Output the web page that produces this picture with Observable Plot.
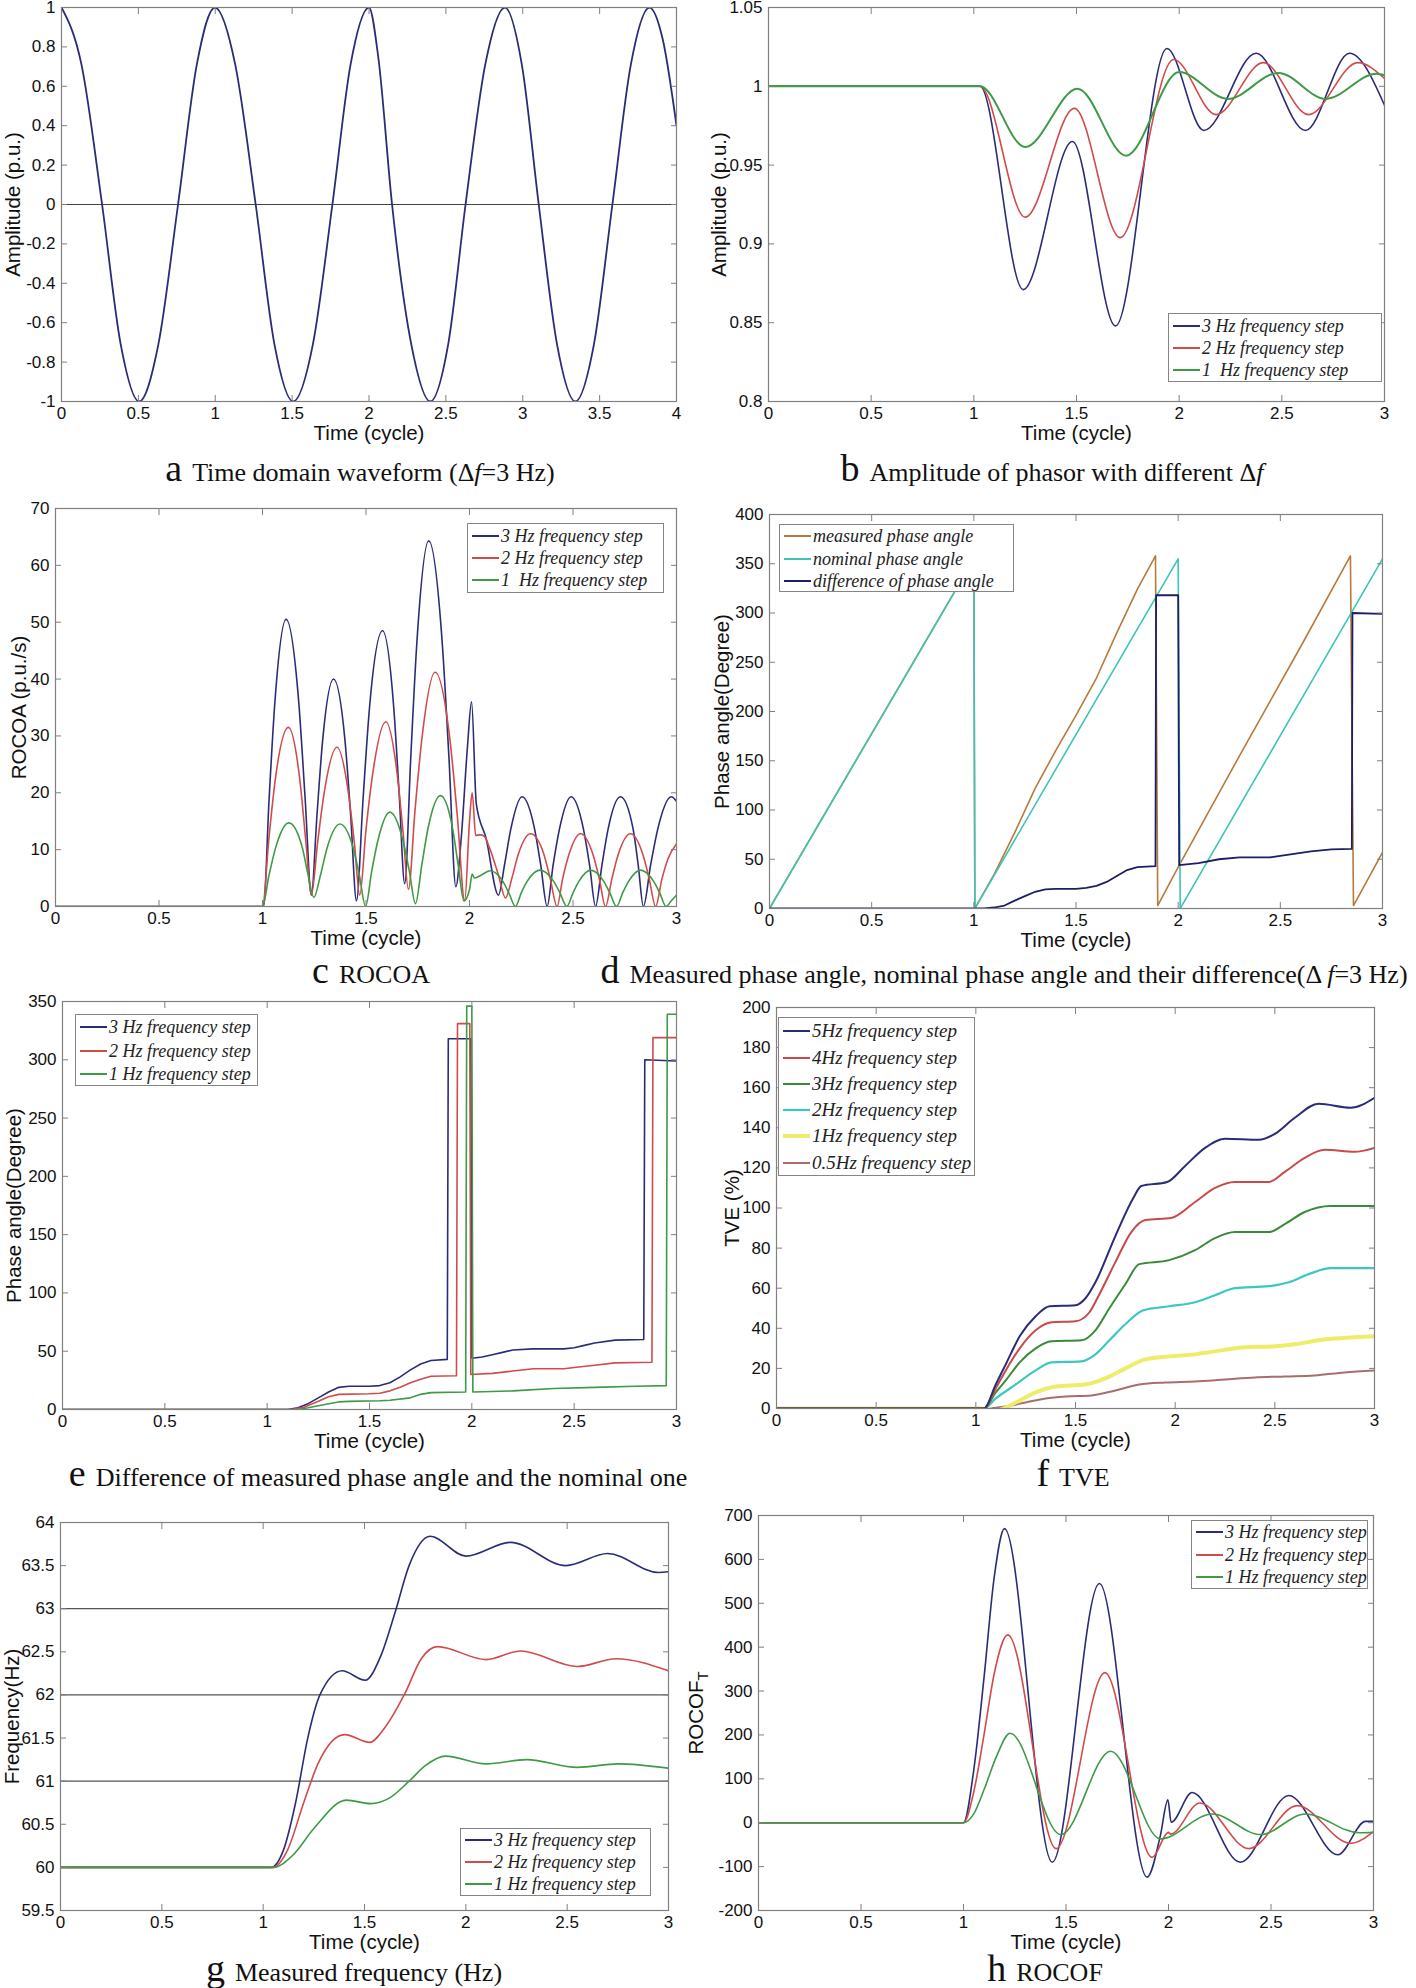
<!DOCTYPE html>
<html><head><meta charset="utf-8">
<script src="https://cdn.jsdelivr.net/npm/d3@7"></script>
<script src="https://cdn.jsdelivr.net/npm/@observablehq/plot@0.6"></script>
<style>
body{margin:0;background:#fff;}
#page{position:relative;width:1416px;height:1988px;overflow:hidden;background:#fff;}
.panel{position:absolute;}
.panel svg{overflow:visible;}
.legend{position:absolute;background:#fff;border:1.5px solid #858585;box-sizing:border-box;font-family:'Liberation Serif','Times New Roman',serif;font-style:italic;color:#222;}
.legend .row{position:absolute;left:0;display:flex;align-items:center;white-space:pre;}
.cap{position:absolute;font-family:'Liberation Serif','Times New Roman',serif;font-size:26px;color:#111;white-space:nowrap;transform:translate(-50%,-50%);line-height:1;}
.cap .l{font-size:38px;margin-right:10px;line-height:0.9;}
</style></head><body><div id="page"></div>
<script>
// ---------- DATA ----------
const timeTicks3 = [0, 0.5, 1, 1.5, 2, 2.5, 3];
const timeTicks4 = [0, 0.5, 1, 1.5, 2, 2.5, 3, 3.5, 4];
const aTicksY = [-1, -0.8, -0.6, -0.4, -0.2, 0, 0.2, 0.4, 0.6, 0.8, 1];
const bTicksY = [0.8, 0.85, 0.9, 0.95, 1, 1.05];
const cTicksY = [0, 10, 20, 30, 40, 50, 60, 70];
const dTicksY = [0, 50, 100, 150, 200, 250, 300, 350, 400];
const eTicksY = [0, 50, 100, 150, 200, 250, 300, 350];
const fTicksY = [0, 20, 40, 60, 80, 100, 120, 140, 160, 180, 200];
const gTicksY = [59.5, 60, 60.5, 61, 61.5, 62, 62.5, 63, 63.5, 64];
const hTicksY = [-200, -100, 0, 100, 200, 300, 400, 500, 600, 700];

const aZeroLine = [0];
const gRefLines = [61, 62, 63];

// a: time-domain waveform
const aWave = [[0,1],[0.13,0.71],[0.264,0],[0.385,-0.71],[0.505,-1],[0.63,-0.71],[0.758,0],[0.88,0.71],[0.998,1],[1.13,0.71],[1.263,0],[1.385,-0.71],[1.507,-1],[1.635,-0.71],[1.762,0],[1.88,0.71],[2.0,1],[2.06,0.75],[2.15,0],[2.275,-0.71],[2.399,-1],[2.515,-0.71],[2.628,0],[2.756,0.71],[2.884,1],[2.994,0.71],[3.104,0],[3.223,-0.71],[3.342,-1],[3.463,-0.71],[3.583,0],[3.703,0.71],[3.824,1],[3.91,0.84],[4.0,0.4]];

// b: amplitude
const b3Hz = [[0,1],[1.03,1],[1.24,0.871],[1.48,0.965],[1.69,0.848],[1.94,1.024],[2.12,0.972],[2.375,1.021],[2.615,0.972],[2.83,1.021],[3.0,0.988]];
const b2Hz = [[0,1],[1.03,1],[1.25,0.917],[1.49,0.986],[1.713,0.904],[1.973,1.017],[2.18,0.982],[2.41,1.015],[2.63,0.982],[2.87,1.015],[3.0,1.005]];
const b1Hz = [[0,1],[1.03,1],[1.25,0.9615],[1.505,0.9985],[1.742,0.956],[2.0,1.009],[2.237,0.992],[2.483,1.0085],[2.714,0.992],[2.96,1.008],[3.0,1.007]];

// c: ROCOA
const c3Hz = [[0,0],[1.0,0],[1.005,0],[1.032,19],[1.06,36],[1.114,50.5],[1.175,36],[1.206,19],[1.236,2],[1.263,16],[1.29,29],[1.343,40],[1.399,29],[1.426,16],[1.454,1],[1.486,19],[1.517,35],[1.58,48.5],[1.634,35],[1.66,20],[1.687,4],[1.716,26],[1.745,46],[1.803,64.3],[1.869,46],[1.901,26],[1.934,3.5],[1.96,12],[1.99,28],[2.01,36],[2.033,18],[2.08,12],[2.14,2],[2.17,7.5],[2.2,13.7],[2.254,19.3],[2.314,13.7],[2.344,7.3],[2.375,0],[2.404,7.3],[2.435,13.7],[2.491,19.3],[2.55,13.7],[2.58,7.3],[2.609,0],[2.64,7.3],[2.67,13.7],[2.729,19.3],[2.79,13.7],[2.815,7.3],[2.84,0],[2.875,7.3],[2.91,13.7],[2.975,19.3],[3.0,18.5]];
const c2Hz = [[0,0],[1.0,0],[1.031,12],[1.062,22.4],[1.125,31.5],[1.18,22.4],[1.208,12],[1.236,2],[1.267,11.5],[1.298,20],[1.36,28],[1.415,20],[1.443,11.5],[1.47,2],[1.5,13.5],[1.533,23.5],[1.596,32.5],[1.65,23.5],[1.678,13.5],[1.705,3],[1.737,17],[1.77,29.5],[1.834,41.2],[1.905,29.5],[1.941,16],[1.977,1],[2.0,15],[2.013,20],[2.03,12.5],[2.05,12.6],[2.07,12.4],[2.1,10],[2.14,5.5],[2.174,1.5],[2.205,5],[2.235,9.1],[2.295,12.8],[2.36,9.1],[2.39,4.9],[2.423,0],[2.45,4.9],[2.48,9.1],[2.536,12.8],[2.597,9.1],[2.627,4.9],[2.657,0],[2.688,4.9],[2.718,9.1],[2.778,12.8],[2.838,9.1],[2.868,4.9],[2.899,0],[2.93,4.9],[2.96,8.5],[3.0,11]];
const c1Hz = [[0,0],[1.0,0],[1.032,5.6],[1.064,10.4],[1.127,14.7],[1.192,10.4],[1.22,5.6],[1.248,1.6],[1.28,5.5],[1.312,10.3],[1.374,14.5],[1.438,10.3],[1.468,5.5],[1.498,0],[1.528,6.3],[1.558,11.7],[1.615,16.6],[1.678,11.7],[1.709,6.3],[1.739,0.5],[1.77,7.4],[1.8,13.8],[1.86,19.5],[1.918,13.8],[1.945,7.4],[1.973,1],[2.0,3],[2.013,5.7],[2.024,5],[2.06,5.6],[2.1,6.3],[2.16,4.5],[2.19,2.4],[2.222,0],[2.25,2.4],[2.28,4.5],[2.34,6.4],[2.405,4.5],[2.437,2.4],[2.47,0],[2.5,2.4],[2.53,4.5],[2.585,6.4],[2.647,4.5],[2.678,2.4],[2.71,0],[2.74,2.4],[2.77,4.5],[2.826,6.4],[2.888,4.5],[2.919,2.4],[2.95,0],[2.975,1],[3.0,2]];

// d: phase angles (3 Hz step)
const dMeasured = [[0,0],[1.0,355],[1.005,0],[1.1,35],[1.2,77],[1.3,122],[1.4,160],[1.5,196],[1.6,234],[1.7,280],[1.8,324],[1.889,358],[1.9,3],[2.0,42],[2.3,155],[2.6,266],[2.843,358],[2.858,3],[3.0,57]];
const dNominal = [[0,0],[1.0,355],[1.005,0],[2.0,355],[2.01,0],[3.0,355]];
const dDiff = [[0,0],[1.05,0],[1.1,1],[1.15,3],[1.2,8],[1.25,12.5],[1.3,17],[1.35,19.5],[1.4,20],[1.5,20],[1.55,21],[1.6,23],[1.65,27],[1.7,33],[1.75,39],[1.8,42],[1.889,43],[1.892,318],[2.0,318],[2.005,44],[2.1,46],[2.2,50],[2.3,52],[2.45,52],[2.55,55],[2.65,58],[2.75,60],[2.85,60.5],[2.853,300],[3.0,299]];

// e: phase angle difference
const e3Hz = [[0,0],[1.1,0],[1.15,1.5],[1.2,5],[1.25,10],[1.3,15],[1.35,19],[1.4,20],[1.5,20],[1.55,20.5],[1.6,23],[1.65,28],[1.7,34],[1.75,39],[1.8,42],[1.88,43],[1.885,318],[1.995,318],[2.0,44],[2.05,45],[2.1,47],[2.15,49],[2.2,51],[2.3,52],[2.45,52],[2.5,53],[2.55,55],[2.6,57],[2.7,59.5],[2.84,60],[2.845,300],[3.0,299]];
const e2Hz = [[0,0],[1.12,0],[1.18,2],[1.25,7],[1.3,11],[1.35,13],[1.5,13.5],[1.55,14],[1.6,16],[1.65,19],[1.7,23],[1.75,26],[1.8,28.5],[1.925,29],[1.93,331],[1.99,331],[1.995,30],[2.1,31],[2.2,33],[2.3,35],[2.45,35],[2.5,36],[2.6,38],[2.7,40],[2.88,40.5],[2.885,319],[3.0,319]];
const e1Hz = [[0,0],[1.15,0],[1.2,1.5],[1.3,5],[1.35,6.5],[1.4,7],[1.55,7.5],[1.6,8],[1.7,10],[1.75,13],[1.8,14.5],[1.97,15],[1.975,346],[2.0,346],[2.005,15],[2.2,16],[2.4,18],[2.6,19],[2.8,20],[2.95,20.5],[2.955,339],[3.0,339]];

// f: TVE
const f5Hz = [[0,0],[1.04,0],[1.1,12],[1.15,22],[1.22,36],[1.3,46],[1.37,51],[1.5,51.5],[1.55,55],[1.6,63],[1.7,86],[1.79,105],[1.83,111],[1.96,113],[2.05,121],[2.15,130],[2.25,134.5],[2.42,134],[2.5,137],[2.6,145],[2.72,152],[2.88,150],[3.0,155]];
const f4Hz = [[0,0],[1.04,0],[1.1,10],[1.15,19],[1.22,30],[1.3,39],[1.38,43],[1.5,43.5],[1.57,48],[1.62,57],[1.7,73],[1.78,88],[1.85,94],[1.98,95],[2.1,103],[2.2,110],[2.3,113],[2.47,113],[2.55,118],[2.65,125],[2.75,129],[2.9,128],[3.0,130]];
const f3Hz = [[0,0],[1.04,0],[1.1,8],[1.15,14],[1.22,23],[1.3,30],[1.38,33.5],[1.53,34],[1.6,39],[1.67,50],[1.75,62],[1.82,72],[1.97,74],[2.1,79],[2.2,85],[2.3,88],[2.47,88],[2.55,92],[2.65,98],[2.78,101],[3.0,101]];
const f2Hz = [[0,0],[1.04,0],[1.1,5],[1.2,12],[1.3,19],[1.38,23],[1.53,23.5],[1.6,27],[1.67,34],[1.75,42],[1.84,49],[1.97,51],[2.1,53],[2.2,56.5],[2.3,60],[2.47,61],[2.57,63],[2.67,67],[2.78,70],[3.0,70]];
const f1Hz = [[0,0],[1.05,0],[1.1,-1],[1.2,3],[1.3,8],[1.4,11],[1.55,12],[1.65,15],[1.75,20],[1.85,24.5],[1.97,26],[2.1,27],[2.2,28.5],[2.35,30.5],[2.5,31],[2.6,32],[2.75,34.5],[2.9,35.5],[3.0,36]];
const f05Hz = [[0,0],[1.05,0],[1.15,1],[1.25,3],[1.35,5],[1.45,6],[1.58,6.5],[1.7,9],[1.82,12],[1.95,13],[2.1,13.5],[2.25,14.5],[2.4,15.5],[2.55,16],[2.7,16.5],[2.85,18],[3.0,19]];

// g: measured frequency
const g3Hz = [[0,60],[1.04,60],[1.1,60.2],[1.16,60.75],[1.22,61.5],[1.28,62.0],[1.39,62.28],[1.503,62.17],[1.58,62.45],[1.65,62.95],[1.72,63.5],[1.824,63.84],[2.0,63.61],[2.22,63.77],[2.494,63.5],[2.7,63.64],[2.95,63.42],[3.0,63.43]];
const g2Hz = [[0,60],[1.05,60],[1.12,60.2],[1.2,60.75],[1.27,61.2],[1.403,61.54],[1.526,61.45],[1.6,61.62],[1.7,62.02],[1.78,62.42],[1.86,62.56],[2.1,62.41],[2.27,62.51],[2.55,62.33],[2.74,62.42],[3.0,62.28]];
const g1Hz = [[0,60],[1.05,60],[1.15,60.15],[1.25,60.45],[1.41,60.78],[1.53,60.74],[1.62,60.8],[1.72,61.0],[1.8,61.18],[1.9,61.29],[2.1,61.2],[2.3,61.25],[2.55,61.16],[2.75,61.2],[3.0,61.15]];

// h: ROCOF
const h3Hz = [[0,0],[1.0,0],[1.05,120],[1.1,330],[1.15,560],[1.2,670],[1.433,-90],[1.663,545],[1.896,-124],[1.96,-30],[1.997,52],[2.013,1],[2.115,69],[2.351,-90],[2.587,62],[2.826,-73],[2.961,3],[3.0,3]];
const h2Hz = [[0,0],[1.0,0],[1.05,70],[1.1,200],[1.15,340],[1.216,428],[1.452,-59],[1.69,342],[1.92,-79],[2.0,-22],[2.01,-26],[2.153,45],[2.392,-59],[2.628,39],[2.888,-47],[3.0,-20]];
const h1Hz = [[0,0],[1.0,0],[1.05,20],[1.1,75],[1.16,150],[1.227,204],[1.475,-27],[1.718,163],[1.961,-37],[2.213,20],[2.449,-27],[2.668,20],[2.93,-23],[3.0,-22]];

// legends / labels
const stepLabels = ["3 Hz frequency step", "2 Hz frequency step", "1 Hz frequency step"];
const stepLabelsB = ["3 Hz frequency step", "2 Hz frequency step", "1  Hz frequency step"];
const phaseLabels = ["measured phase angle", "nominal phase angle", "difference of phase angle"];
const tveLabels = ["5Hz frequency step", "4Hz frequency step", "3Hz frequency step", "2Hz frequency step", "1Hz frequency step", "0.5Hz frequency step"];

// colours
const navy = "#2b2c78", red = "#d14b4b", green = "#3d9a45";
const stepColors = [navy, red, green];
const phaseColors = ["#b87a3c", "#3ec4b4", "#1e1e66"];
const tveColors = [navy, "#c84a4a", "#3a8a3a", "#3cc8c0", "#eded6a", "#a86e6e"];

// ---------- RENDER ----------
const page = document.getElementById("page");
const ML = 90, MR = 20, MT = 15, MB = 60;
const gray = "#808080";
const fmt = d => String(d);

function panel(cfg) {
  const [x0, y0, x1, y1] = cfg.frame;
  const W = x1 - x0 + ML + MR, H = y1 - y0 + MT + MB;
  const lines = cfg.series.map(s => Plot.line(s.pts, {
    x: d => d[0], y: d => d[1], stroke: s.color, strokeWidth: s.width || 1.6,
    curve: s.curve || cfg.curve || "monotone-x", clip: true
  }));
  const svg = Plot.plot({
    width: W, height: H, marginLeft: ML, marginRight: MR, marginTop: MT, marginBottom: MB,
    x: {domain: cfg.xDomain}, y: {domain: cfg.yDomain},
    style: {fontSize: "17px", fontFamily: "'Liberation Sans', Arial, sans-serif", color: "#111", background: "transparent", overflow: "visible"},
    marks: [
      ...(cfg.extra || []),
      ...lines,
      Plot.frame({stroke: gray, strokeWidth: 1.2}),
      Plot.axisX({ticks: cfg.xTicks, tickSize: 0, tickPadding: 5, tickFormat: fmt, fill: "#111", label: "Time (cycle)", labelAnchor: "center", labelArrow: "none", labelOffset: 38}),
      Plot.axisX({ticks: cfg.xTicks, tickSize: -6, fill: "none", stroke: gray}),
      Plot.axisX({ticks: cfg.xTicks, anchor: "top", tickSize: -6, fill: "none", stroke: gray}),
      Plot.axisY({ticks: cfg.yTicks, tickSize: 0, tickPadding: 6, tickFormat: fmt, fill: "#111", label: cfg.ylabel, labelAnchor: "center", labelArrow: "none", labelOffset: cfg.yLabelOffset}),
      Plot.axisY({ticks: cfg.yTicks, tickSize: -6, fill: "none", stroke: gray}),
      Plot.axisY({ticks: cfg.yTicks, anchor: "right", tickSize: -6, fill: "none", stroke: gray})
    ]
  });
  svg.querySelectorAll('g[aria-label="x-axis label"], g[aria-label="y-axis label"]').forEach(g => g.setAttribute("font-size", "20.5"));
  if (cfg.subscript) {
    const t = svg.querySelector('g[aria-label="y-axis label"] text');
    if (t) {
      const ts = document.createElementNS("http://www.w3.org/2000/svg", "tspan");
      ts.setAttribute("dy", "0.35em"); ts.setAttribute("font-size", "15");
      ts.textContent = cfg.subscript;
      t.appendChild(ts);
    }
  }
  const div = document.createElement("div");
  div.className = "panel";
  div.style.left = (x0 - ML) + "px";
  div.style.top = (y0 - MT) + "px";
  div.appendChild(svg);
  page.appendChild(div);
}

function legend(box, rows, labels, colors, fs, widths) {
  const [x0, y0, x1, y1] = box;
  const div = document.createElement("div");
  div.className = "legend";
  Object.assign(div.style, {left: x0 + "px", top: y0 + "px", width: (x1 - x0) + "px", height: (y1 - y0) + "px", fontSize: fs + "px"});
  labels.forEach((lab, i) => {
    const r = document.createElement("div");
    r.className = "row";
    r.style.top = (rows[i] - y0 - fs * 0.6 - 1.5) + "px";
    r.style.height = (fs * 1.2) + "px";
    r.style.lineHeight = (fs * 1.2) + "px";
    const w = widths ? widths[i] : 2;
    r.innerHTML = `<svg width="31" height="8" style="flex:none"><line x1="4" y1="4" x2="31" y2="4" stroke="${colors[i]}" stroke-width="${w}"/></svg><span style="margin-left:2px">${lab}</span>`;
    div.appendChild(r);
  });
  page.appendChild(div);
}

function caption(cx, cy, letter, html) {
  const d = document.createElement("div");
  d.className = "cap";
  d.style.left = cx + "px"; d.style.top = cy + "px";
  d.innerHTML = `<span class="l">${letter}</span>${html}`;
  page.appendChild(d);
}

// a
panel({frame: [61, 7, 676, 401], xDomain: [0, 4], yDomain: [-1, 1], xTicks: timeTicks4, yTicks: aTicksY,
  ylabel: "Amplitude (p.u.)", yLabelOffset: 56,
  extra: [Plot.ruleY(aZeroLine, {stroke: "#444", strokeWidth: 1.2})],
  series: [{pts: aWave, color: navy, width: 1.8}]});
// b
panel({frame: [768, 7, 1384, 401], xDomain: [0, 3], yDomain: [0.8, 1.05], xTicks: timeTicks3, yTicks: bTicksY,
  ylabel: "Amplitude (p.u.)", yLabelOffset: 57,
  series: [{pts: b3Hz, color: navy}, {pts: b2Hz, color: red}, {pts: b1Hz, color: green, width: 2}]});
// c
panel({frame: [55, 508, 676, 906], xDomain: [0, 3], yDomain: [0, 70], xTicks: timeTicks3, yTicks: cTicksY,
  ylabel: "ROCOA (p.u./s)", yLabelOffset: 44,
  series: [{pts: c3Hz, color: navy}, {pts: c2Hz, color: red}, {pts: c1Hz, color: green}]});
// d
panel({frame: [769, 514, 1382, 908], xDomain: [0, 3], yDomain: [0, 400], xTicks: timeTicks3, yTicks: dTicksY,
  ylabel: "Phase angle(Degree)", yLabelOffset: 55, curve: "linear",
  series: [{pts: dMeasured, color: phaseColors[0]}, {pts: dNominal, color: phaseColors[1]}, {pts: dDiff, color: phaseColors[2], width: 1.8}]});
// e
panel({frame: [62, 1001, 676, 1409], xDomain: [0, 3], yDomain: [0, 350], xTicks: timeTicks3, yTicks: eTicksY,
  ylabel: "Phase angle(Degree)", yLabelOffset: 56, curve: "linear",
  series: [{pts: e3Hz, color: navy}, {pts: e2Hz, color: red}, {pts: e1Hz, color: green}]});
// f
panel({frame: [776, 1007, 1374, 1408], xDomain: [0, 3], yDomain: [0, 200], xTicks: timeTicks3, yTicks: fTicksY,
  ylabel: "TVE (%)", yLabelOffset: 52,
  series: [{pts: f05Hz, color: tveColors[5], width: 2}, {pts: f1Hz, color: tveColors[4], width: 4}, {pts: f2Hz, color: tveColors[3], width: 2.2},
           {pts: f3Hz, color: tveColors[2], width: 2}, {pts: f4Hz, color: tveColors[1], width: 2}, {pts: f5Hz, color: tveColors[0], width: 2}]});
// g
panel({frame: [60, 1522, 668, 1910], xDomain: [0, 3], yDomain: [59.5, 64], xTicks: timeTicks3, yTicks: gTicksY,
  ylabel: "Frequency(Hz)", yLabelOffset: 56,
  extra: [Plot.ruleY(gRefLines, {stroke: "#555", strokeWidth: 1.2})],
  series: [{pts: g3Hz, color: navy}, {pts: g2Hz, color: red}, {pts: g1Hz, color: green}]});
// h
panel({frame: [758, 1515, 1373, 1910], xDomain: [0, 3], yDomain: [-200, 700], xTicks: timeTicks3, yTicks: hTicksY,
  ylabel: "ROCOF", subscript: "T", yLabelOffset: 70,
  series: [{pts: h3Hz, color: navy}, {pts: h2Hz, color: red}, {pts: h1Hz, color: green}]});

// legends
legend([1168, 313, 1382, 382], [327, 349, 371], stepLabelsB, stepColors, 18);
legend([467, 523, 664, 593], [537, 559, 581], stepLabelsB, stepColors, 18);
legend([779, 524, 1014, 592], [537, 560, 582], phaseLabels, phaseColors, 18);
legend([75, 1014, 258, 1086], [1028, 1052, 1075], stepLabels, stepColors, 18);
legend([778, 1017, 975, 1176], [1032, 1059, 1085, 1111, 1137, 1164], tveLabels, tveColors, 19, [2, 2, 2, 2.2, 4, 2]);
legend([460, 1828, 651, 1896], [1841, 1863, 1885], stepLabels, stepColors, 18);
legend([1191, 1520, 1368, 1589], [1533, 1556, 1578], stepLabels, stepColors, 18);

// captions
caption(360, 468, "a", "Time domain waveform (Δ<i>f</i>=3 Hz)");
caption(1052, 468, "b", "Amplitude of phasor with different Δ<i>f</i>");
caption(371, 970, "c", "ROCOA");
caption(1004, 970, "d", "Measured phase angle, nominal phase angle and their difference(Δ <i>f</i>=3 Hz)");
caption(378, 1473, "e", "Difference of measured phase angle and the nominal one");
caption(1073, 1473, "f", "TVE");
caption(354, 1968, "g", "Measured frequency (Hz)");
caption(1045, 1968, "h", "ROCOF");
</script></body></html>
